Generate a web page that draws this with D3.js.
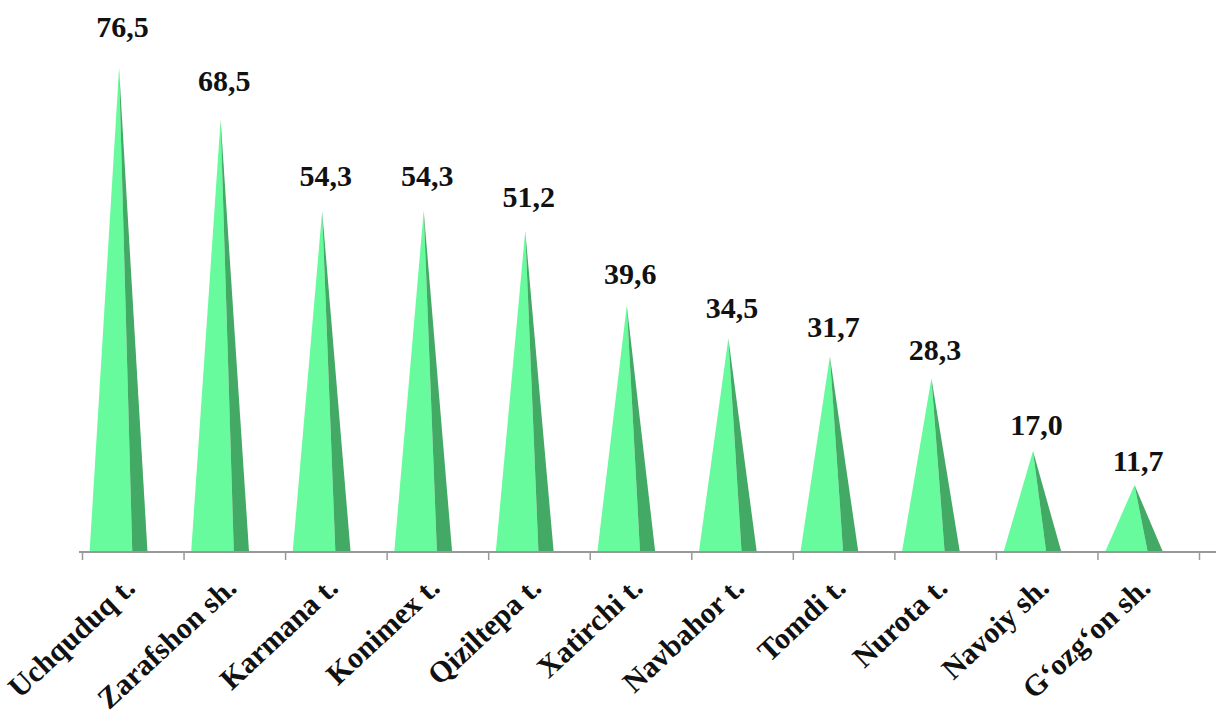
<!DOCTYPE html>
<html>
  <head>
    <meta charset="utf-8"/>
    <script src="https://d3js.org/d3.v7.min.js"></script>
  </head>
  <body>
    <svg width="1216" height="722"></svg>
    <script>
      // ### Data ###
      var categories = ["Uchquduq t.", "Zarafshon sh.", "Karmana t.", "Konimex t.", "Qiziltepa t.",
                        "Xatirchi t.", "Navbahor t.", "Tomdi t.", "Nurota t.", "Navoiy sh.", "G\u2018ozg\u2018on sh."];
      var values = [76.5, 68.5, 54.3, 54.3, 51.2, 39.6, 34.5, 31.7, 28.3, 17.0, 11.7];
      var valueLabels = ["76,5", "68,5", "54,3", "54,3", "51,2", "39,6", "34,5", "31,7", "28,3", "17,0", "11,7"];

      var serif = "Liberation Serif";

      d3.select("body").style("margin", "0");

      var svg = d3.select("svg")
          .style("display", "block")
          .attr("font-family", serif),
          width = +svg.attr("width"),
          height = +svg.attr("height"),
          baseY = 552; // floor line of the plot

      var x = d3.scaleBand()
          .domain(categories)
          .range([82, 1199])
          .padding(0);

      // apex height (back wall of the 3d plot)
      var y = d3.scaleLinear()
          .domain([0, 80])
          .range([560.3, 45.5]);

      // data labels sit a bit higher in the 3d projection
      var yLabel = d3.scaleLinear()
          .domain([0, 80])
          .range([549, 14]);

      // tick positions at band boundaries
      var xi = d3.scaleLinear()
          .domain([0, categories.length])
          .range(x.range());

      var bw = x.bandwidth();

      // pyramids: lit front face + shaded side face
      var pyr = svg.append("g").selectAll("g")
          .data(categories)
          .join("g");

      pyr.append("path")
          .attr("fill", "#68fb9e")
          .attr("d", function(d, i) {
            var x0 = x(d);
            return "M" + (x0 + bw * 0.075) + "," + baseY +
                   "L" + (x0 + bw * 0.365) + "," + y(values[i]) +
                   "L" + (x0 + bw * 0.495) + "," + baseY + "Z";
          });

      pyr.append("path")
          .attr("fill", "#42aa65")
          .attr("d", function(d, i) {
            var x0 = x(d);
            return "M" + (x0 + bw * 0.495) + "," + baseY +
                   "L" + (x0 + bw * 0.365) + "," + y(values[i]) +
                   "L" + (x0 + bw * 0.645) + "," + baseY + "Z";
          });

      // axis
      var axis = svg.append("g")
          .attr("transform", "translate(0," + baseY + ")")
          .call(d3.axisBottom(xi)
            .tickValues(d3.range(categories.length + 1))
            .tickSize(8)
            .tickSizeOuter(0)
            .tickFormat(""));
      axis.select(".domain")
          .attr("d", "M" + (xi(0) - 3) + ",0H" + width)
          .attr("stroke", "#999")
          .attr("stroke-width", 2);
      axis.selectAll(".tick line")
          .attr("stroke", "#999")
          .attr("stroke-width", 1.5);

      // value labels
      svg.append("g").selectAll("text")
          .data(values)
          .join("text")
          .attr("font-family", serif)
          .attr("font-weight", "bold")
          .attr("font-size", 30)
          .attr("fill", "#111")
          .attr("text-anchor", "middle")
          .attr("x", function(d, i) { return x(categories[i]) + bw * 0.4; })
          .attr("y", function(d) { return yLabel(d); })
          .text(function(d, i) { return valueLabels[i]; });

      // category labels
      svg.append("g").selectAll("text")
          .data(categories)
          .join("text")
          .attr("font-family", serif)
          .attr("font-weight", "bold")
          .attr("font-size", 30)
          .attr("fill", "#111")
          .attr("text-anchor", "end")
          .attr("transform", function(d) {
            return "translate(" + (x(d) + bw / 2 + 4) + ",590) rotate(-43)";
          })
          .text(function(d) { return d; });
    </script>
  </body>
</html>
